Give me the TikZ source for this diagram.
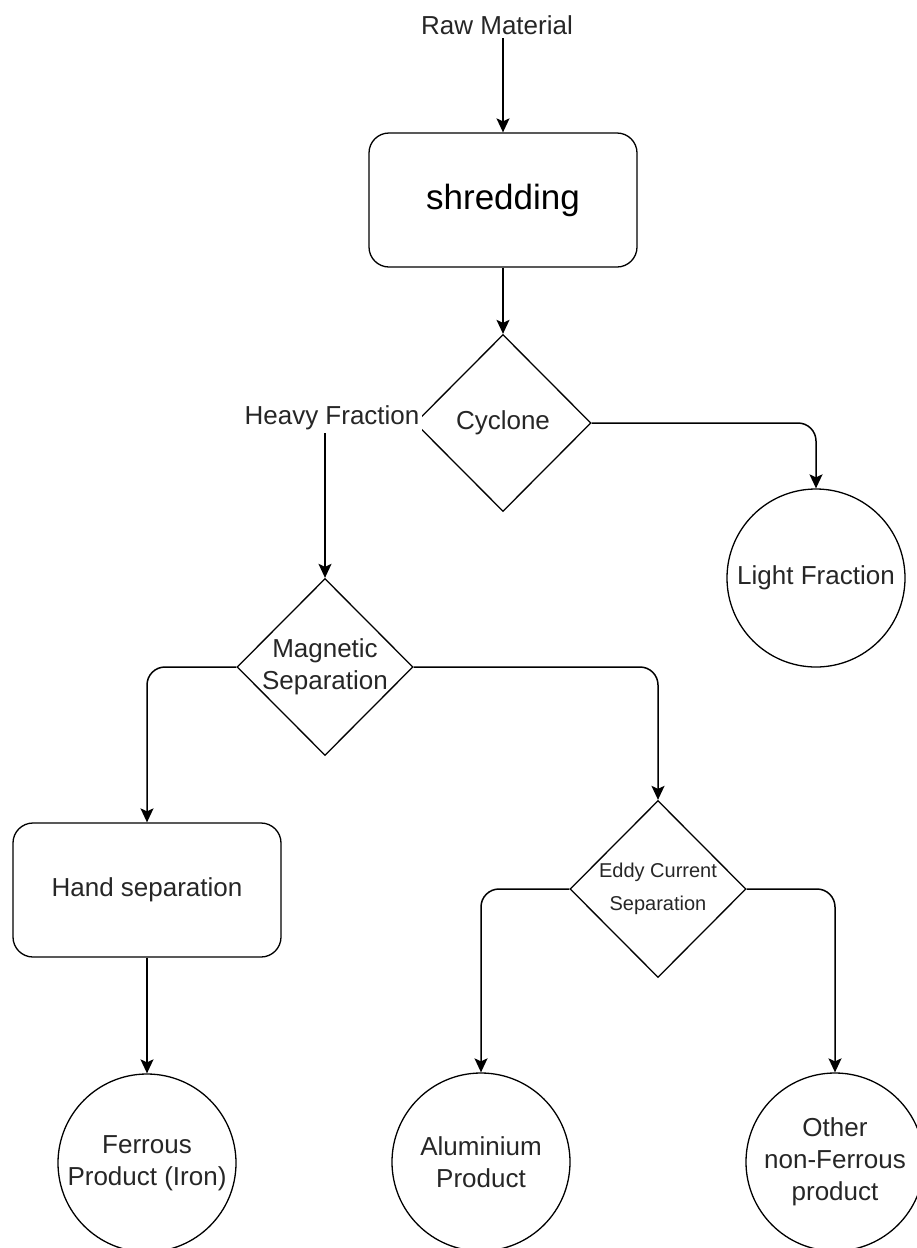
\documentclass[tikz,border=0pt]{standalone}
\usepackage{fontspec}
\setmainfont{Liberation Sans}
\usetikzlibrary{shapes.geometric, arrows.meta, positioning}

\begin{document}
\begin{tikzpicture}[
  x=1pt, y=-1pt,
  txt/.style={font=\fontsize{26}{32}\selectfont, align=center, text=black!85},
  box/.style={draw, rounded corners=20pt, minimum width=268pt, minimum height=134pt,
              align=center, line width=1.3pt},
  dec/.style={draw, diamond, inner sep=0pt, minimum width=176pt, minimum height=177pt,
              line width=1.3pt},
  prod/.style={draw, circle, inner sep=0pt, minimum size=178pt, align=center,
               line width=1.3pt, txt},
  arr/.style={-{Stealth[length=14pt, width=13pt, inset=3pt]}, line width=1.5pt,
              rounded corners=18pt},
]
  \useasboundingbox (0,0) rectangle (916,1248);

  % -- Top: input and shredder --
  \node[txt] (raw) at (497, 25) {Raw Material};
  \node[box, font=\fontsize{35}{42}\selectfont] (shred) at (503, 200) {shredding};

  % -- Cyclone split --
  \node[dec, label={[txt]center:Cyclone}] (cyc) at (503, 423) {};
  \node[prod] (light) at (816, 578) {Light Fraction};

  % -- Magnetic split --
  \node[dec, label={[txt]center:{Magnetic\\Separation}}] (mag) at (325, 667) {};
  \node[box, txt] (hand) at (147, 890) {Hand separation};
  \node[dec, label={[txt, font=\fontsize{20}{33}\selectfont]center:{Eddy Current\\Separation}}]
    (eddy) at (658, 889) {};

  % -- Products --
  \node[prod] (ferr)  at (147, 1163) {Ferrous\\Product (Iron)};
  \node[prod] (alu)   at (481, 1162) {Aluminium\\Product};
  \node[prod] (other) at (835, 1162) {Other\\non-Ferrous\\product};

  % == Arrows ==
  \draw[arr] (shred.north |- raw.south) -- (shred.north);
  \draw[arr] (shred.south) -- (cyc.north);
  \draw[arr] (cyc.east) -| (light.north);
  \draw[arr, sharp corners] (cyc.west) -| node[txt, fill=white, inner sep=3pt, xshift=7pt, yshift=5pt]
    {Heavy Fraction} (mag.north);
  \draw[arr] (mag.west) -| (hand.north);
  \draw[arr] (mag.east) -| (eddy.north);
  \draw[arr] (hand.south) -- (ferr.north);
  \draw[arr] (eddy.west) -| (alu.north);
  \draw[arr] (eddy.east) -| (other.north);

\end{tikzpicture}
\end{document}
